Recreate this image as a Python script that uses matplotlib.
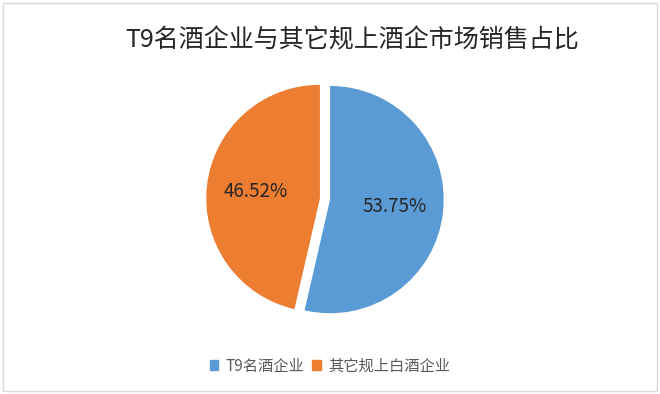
import matplotlib

matplotlib.use("Agg")
import matplotlib.pyplot as plt
from matplotlib.patches import Rectangle

plt.rcParams["font.family"] = ["Noto Sans CJK SC", "DejaVu Sans"]

title = "T9名酒企业与其它规上酒企市场销售占比"
categories = ["T9名酒企业", "其它规上白酒企业"]
shares = [53.75, 46.52]
colors = ["#5B9BD5", "#ED7D31"]

W, H = 660, 394
fig = plt.figure(figsize=(W / 100, H / 100), dpi=100)
fig.patch.set_facecolor("white")
fig.patches.append(
    Rectangle((3 / W, 3 / H), 1 - 6 / W, 1 - 6 / H, transform=fig.transFigure,
              fill=False, edgecolor="#d9d9d9", linewidth=1.0)
)

# pie axes: centre ~ (325, 199) px from top-left
size = 250
cx, cy = 325, H - 199
ax = fig.add_axes([(cx - size / 2) / W, (cy - size / 2) / H, size / W, size / H])
wedges, texts = ax.pie(
    shares,
    colors=colors,
    startangle=90,
    counterclock=False,
    explode=[0.045, 0.045],
    labels=[f"{v:.2f}%" for v in shares],
    labeldistance=0.57,
    wedgeprops={"linewidth": 0},
    textprops={"fontsize": 13.5, "color": "#262626"},
)
for t in texts:
    t.set_horizontalalignment("center")
    t.set_verticalalignment("center")
ax.set_xlim(-1.1, 1.1)
ax.set_ylim(-1.1, 1.1)
ax.set_aspect("equal")
ax.axis("off")

fig.text(0.533, 1 - 40 / H, title, ha="center", va="center", fontsize=18, color="#262626")

handles = [Rectangle((0, 0), 1, 1, color=c) for c in colors]
fig.legend(
    handles, categories,
    loc="center", bbox_to_anchor=(0.5, 1 - 366 / H),
    ncol=2, frameon=False, fontsize=11, labelcolor="#595959",
    handlelength=0.55, handleheight=0.55, handletextpad=0.5, columnspacing=0.5,
)

fig.savefig("out.png", dpi=100, facecolor="white")
